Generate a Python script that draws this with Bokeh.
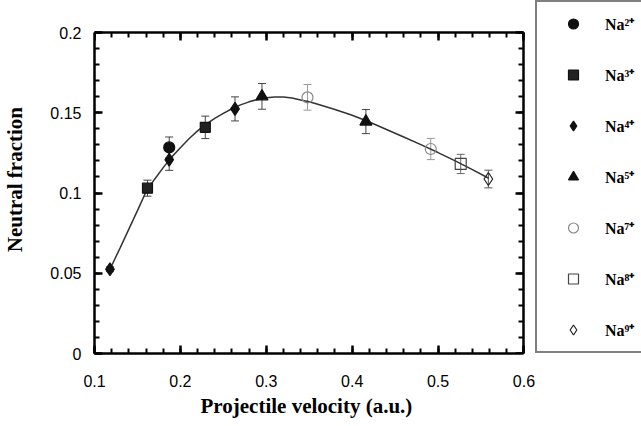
import numpy as np
from bokeh.plotting import figure
from bokeh.models import (ColumnDataSource, Range1d, LinearAxis, FixedTicker, Whisker, TeeHead,
                          Legend, LegendItem, NumeralTickFormatter, Title)
from bokeh.embed import file_html
from bokeh.resources import INLINE

# ---- data ----
na2_x = [0.187];  na2_y = [0.1284]; na2_e = [0.0065]
na3_x = [0.1617, 0.229];  na3_y = [0.1030, 0.1409]; na3_e = [0.0050, 0.0070]
na4_x = [0.118, 0.187, 0.2636]; na4_y = [0.0525, 0.1207, 0.1524]; na4_e = [0.0015, 0.0066, 0.0075]
na5_x = [0.295, 0.416]; na5_y = [0.1602, 0.1445]; na5_e = [0.0080, 0.0075]
na7_x = [0.348, 0.4915]; na7_y = [0.1596, 0.1274]; na7_e = [0.0080, 0.0066]
na8_x = [0.5264]; na8_y = [0.1181]; na8_e = [0.0060]
na9_x = [0.5586]; na9_y = [0.1087]; na9_e = [0.0055]

fit_x = [0.118, 0.13, 0.14, 0.15, 0.16, 0.17, 0.18, 0.19, 0.20, 0.21, 0.22, 0.23, 0.24, 0.25,
         0.26, 0.27, 0.28, 0.29, 0.30, 0.31, 0.32, 0.33, 0.34, 0.35, 0.36, 0.38, 0.40, 0.42,
         0.44, 0.46, 0.48, 0.50, 0.52, 0.54, 0.559]
fit_y = [0.0525, 0.066, 0.0775, 0.089, 0.1008, 0.1086, 0.1158, 0.1225, 0.1282, 0.1338, 0.1387,
         0.1429, 0.1465, 0.1496, 0.1525, 0.1549, 0.1568, 0.1583, 0.1593, 0.1598, 0.1598, 0.1592,
         0.1580, 0.1569, 0.1553, 0.1520, 0.1484, 0.1442, 0.1396, 0.1349, 0.1301, 0.1252, 0.1200,
         0.1146, 0.1092]

labels = ["Na²⁺", "Na³⁺", "Na⁴⁺", "Na⁵⁺", "Na⁷⁺", "Na⁸⁺", "Na⁹⁺"]
x_ticks = [0.1, 0.2, 0.3, 0.4, 0.5, 0.6]
y_ticks = [0.0, 0.05, 0.1, 0.15, 0.2]
x_minor = [round(v, 3) for v in np.arange(0.1, 0.6001, 0.02)]
y_minor = [round(v, 3) for v in np.arange(0.0, 0.2001, 0.01)]
X_LO, X_HI = 0.1, 0.6
Y_LO, Y_HI = 0.0, 0.2
x_title = "Projectile  velocity  (a.u.)"
y_title = "Neutral  fraction"

# The data frame extends right and up beyond the axes box so the legend box
# (to the right of the axes, reaching above them) is not clipped.
x_px_per_unit = (523 - 92) / (X_HI - X_LO)
y_px_per_unit = (353 - 32) / (Y_HI - Y_LO)
x_end = X_LO + (641 - 92) / x_px_per_unit
y_end = Y_LO + 353 / y_px_per_unit

p = figure(width=641, height=426, output_backend="svg", toolbar_location=None,
           x_range=Range1d(X_LO, x_end), y_range=Range1d(Y_LO, y_end),
           min_border_left=92, min_border_right=0, min_border_top=0, min_border_bottom=73)
p.xgrid.visible = False
p.ygrid.visible = False
p.outline_line_color = None
p.background_fill_color = "white"
p.border_fill_color = "white"

xt = FixedTicker(ticks=x_ticks, minor_ticks=x_minor)
yt = FixedTicker(ticks=y_ticks, minor_ticks=y_minor)

def style_axis(ax, show_labels):
    ax.axis_line_width = 2.5
    ax.major_tick_in = 8
    ax.major_tick_out = 0
    ax.minor_tick_in = 5
    ax.minor_tick_out = 0
    ax.major_tick_line_width = 2.5
    ax.minor_tick_line_width = 2
    if show_labels:
        ax.major_label_text_font = "Liberation Sans"
        ax.major_label_text_font_size = "16px"
        ax.major_label_text_color = "black"
        ax.axis_label_text_font = "Liberation Serif"
        ax.axis_label_text_font_style = "bold"
        ax.axis_label_text_font_size = "21px"
        ax.axis_label_text_color = "black"
    else:
        ax.major_label_text_font_size = "0px"
        ax.major_label_standoff = 0

p.xaxis.ticker = xt
p.yaxis.ticker = yt
p.xaxis.bounds = (X_LO, X_HI)
p.yaxis.bounds = (Y_LO, Y_HI)
p.xaxis.formatter = NumeralTickFormatter(format="0.0")
p.yaxis.formatter = NumeralTickFormatter(format="0.[00]")
p.yaxis.axis_label = y_title
style_axis(p.xaxis[0], True)
style_axis(p.yaxis[0], True)
p.xaxis.major_label_standoff = 21
p.yaxis.major_label_standoff = 13
p.yaxis.axis_label_standoff = 20

# x-axis title, centred under the axes box (not under the wider data frame)
p.add_layout(Title(text=x_title, align="left", offset=106, standoff=4,
                   text_font="Liberation Serif", text_font_style="bold",
                   text_font_size="21px", text_color="black"), "below")

top_ax = LinearAxis(ticker=xt, bounds=(X_LO, X_HI), fixed_location=Y_HI)
right_ax = LinearAxis(ticker=yt, bounds=(Y_LO, Y_HI), fixed_location=X_HI)
style_axis(top_ax, False)
style_axis(right_ax, False)
p.add_layout(top_ax, "above")
p.add_layout(right_ax, "right")

# fit curve
p.line(fit_x, fit_y, line_color="#333333", line_width=1.5)

series = [
    (na2_x, na2_y, na2_e, "circle", "#111111", "#111111", "#444444", 11),
    (na3_x, na3_y, na3_e, "square", "#222222", "#111111", "#444444", 10),
    (na4_x, na4_y, na4_e, "diamond", "#111111", "#111111", "#444444", 13),
    (na5_x, na5_y, na5_e, "triangle", "#111111", "#111111", "#444444", 12),
    (na7_x, na7_y, na7_e, "circle", None, "#888888", "#999999", 11),
    (na8_x, na8_y, na8_e, "square", None, "#444444", "#666666", 11),
    (na9_x, na9_y, na9_e, "diamond", None, "#222222", "#555555", 13),
]

items = []
for (xs, ys, es, mk, fill, line, ecol, size), lab in zip(series, labels):
    src = ColumnDataSource(dict(x=xs, y=ys, up=[a + b for a, b in zip(ys, es)],
                                lo=[a - b for a, b in zip(ys, es)]))
    w = Whisker(base="x", upper="up", lower="lo", source=src, dimension="height",
                line_color=ecol, line_width=1,
                upper_head=TeeHead(size=8, line_color=ecol, line_width=1),
                lower_head=TeeHead(size=8, line_color=ecol, line_width=1))
    p.add_layout(w)
    r = p.scatter("x", "y", source=src, marker=mk, size=size,
                  fill_color=fill if fill else "white", fill_alpha=1.0 if fill else 0.0,
                  line_color=line, line_width=1.2)
    items.append(LegendItem(label=lab, renderers=[r]))

legend = Legend(items=items, location=(441, 0), orientation="vertical",
                padding=9, spacing=26, label_height=25, glyph_height=25, glyph_width=54,
                label_standoff=5, label_width=45, margin=0,
                label_text_font="Liberation Serif", label_text_font_style="bold",
                label_text_font_size="16px", label_text_color="black",
                border_line_color="black", border_line_width=2,
                background_fill_color="white", background_fill_alpha=1.0)
p.add_layout(legend, "center")

open("out.html", "w").write(file_html(p, INLINE))
